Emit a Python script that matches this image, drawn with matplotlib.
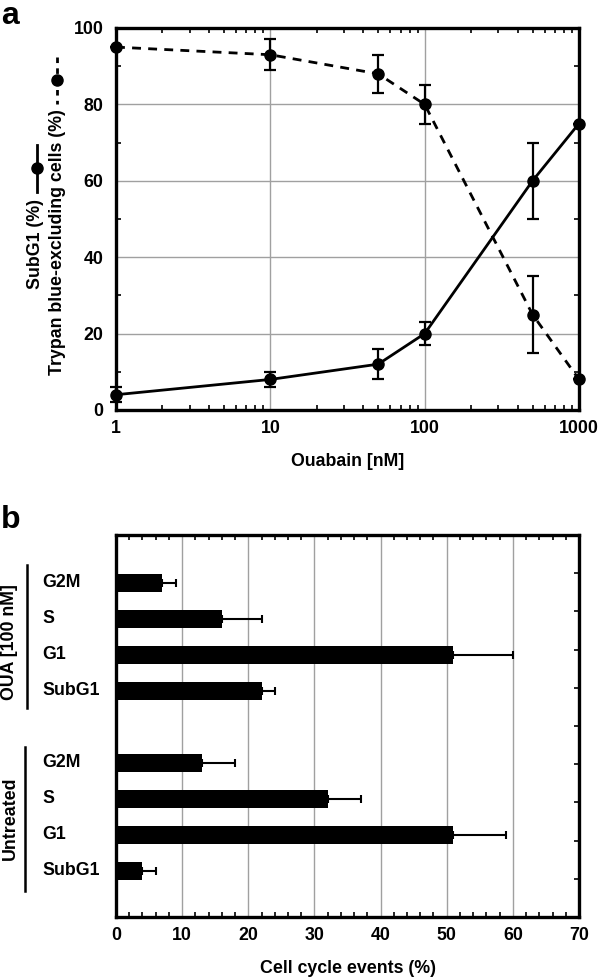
import matplotlib
matplotlib.use("Agg")
import matplotlib.pyplot as plt
from matplotlib.lines import Line2D
from matplotlib.ticker import MultipleLocator, LogLocator, NullFormatter, FixedLocator

plt.rcParams['font.family'] = ['Liberation Sans', 'DejaVu Sans']
plt.rcParams['font.weight'] = 'bold'

# ---- Panel a data ----
ouabain = [1, 10, 50, 100, 500, 1000]
trypan = [95, 93, 88, 80, 25, 8]
trypan_err = [0, 4, 5, 5, 10, 0]
subg1 = [4, 8, 12, 20, 60, 75]
subg1_err = [2, 2, 4, 3, 10, 0]
xticks_a = [1, 10, 100, 1000]
xticklabels_a = ["1", "10", "100", "1000"]
yticks_a = [0, 20, 40, 60, 80, 100]

# ---- Panel b data ----
groups = ["OUA [100 nM]", "Untreated"]
phases = ["G2M", "S", "G1", "SubG1"]
oua_vals = [7, 16, 51, 22]
oua_err = [2, 6, 9, 2]
untr_vals = [13, 32, 51, 4]
untr_err = [5, 5, 8, 2]
xticks_b = [0, 10, 20, 30, 40, 50, 60, 70]

W, H = 600, 977
FS = 12.8
fig = plt.figure(figsize=(6, 9.77), dpi=100)

def fx(px):
    return px / W

def fy(py):
    return 1 - py / H

# ---------- Panel a ----------
axa = fig.add_axes([fx(116), fy(410), fx(579) - fx(116), fy(28) - fy(410)])
axa.set_xscale('log')
axa.set_xlim(1, 1000)
axa.set_ylim(0, 100)
axa.grid(True, which='major', color='#a0a0a0', linewidth=1.0)
axa.set_axisbelow(True)

axa.plot(ouabain, trypan, color='black', linewidth=2, dashes=(3.2, 2.6),
         zorder=3, clip_on=False)
ebt = axa.errorbar(ouabain, trypan, yerr=trypan_err, fmt='o', color='black',
                   markersize=8, capsize=4, elinewidth=1.6, capthick=1.6, zorder=4)
ebs = axa.errorbar(ouabain, subg1, yerr=subg1_err, fmt='o-', color='black',
                   markersize=8, capsize=4, elinewidth=1.6, capthick=1.6,
                   linewidth=2, zorder=4)
for eb in (ebt, ebs):
    eb.lines[0].set_clip_on(False)
    for art in eb.lines[1]:
        art.set_clip_on(False)
    for art in eb.lines[2]:
        art.set_clip_on(False)

axa.xaxis.set_major_locator(FixedLocator(xticks_a))
axa.set_xticklabels(xticklabels_a)
axa.xaxis.set_minor_locator(LogLocator(base=10, subs=range(2, 10)))
axa.xaxis.set_minor_formatter(NullFormatter())
axa.set_yticks(yticks_a)
axa.yaxis.set_minor_locator(MultipleLocator(10))
axa.tick_params(which='both', direction='in', top=True, right=True,
                labelsize=FS, width=1.2)
axa.tick_params(which='major', length=0)
axa.tick_params(axis='x', which='major', pad=7)
axa.tick_params(axis='y', which='major', pad=9)
axa.tick_params(which='minor', length=3.5)
for s in axa.spines.values():
    s.set_linewidth(2.4)
    s.set_zorder(5)
for lab in axa.get_xticklabels() + axa.get_yticklabels():
    lab.set_fontweight('bold')
axa.set_xlabel("Ouabain [nM]", fontsize=FS, fontweight='bold', labelpad=12)

# y label (two lines) with line symbols
fig.text(fx(36), fy(244), "SubG1 (%)", rotation=90, ha='center', va='center',
         fontsize=FS, fontweight='bold')
fig.text(fx(57), fy(242), "Trypan blue-excluding cells (%)", rotation=90,
         ha='center', va='center', fontsize=FS, fontweight='bold')
fig.add_artist(Line2D([fx(37), fx(37)], [fy(145), fy(192)], color='black',
                      linewidth=2, transform=fig.transFigure))
fig.add_artist(Line2D([fx(37)], [fy(168)], marker='o', markersize=8,
                      color='black', transform=fig.transFigure))
fig.add_artist(Line2D([fx(57), fx(57)], [fy(57), fy(104)], color='black',
                      linewidth=2, dashes=(2.0, 1.9), transform=fig.transFigure))
fig.add_artist(Line2D([fx(57)], [fy(80)], marker='o', markersize=8,
                      color='black', transform=fig.transFigure))

fig.text(fx(1), fy(23.5), "a", fontsize=23, fontweight='bold', ha='left',
         va='baseline')

# ---------- Panel b ----------
axb = fig.add_axes([fx(116), fy(917), fx(579) - fx(116), fy(535) - fy(917)])
pos_oua = [8, 7, 6, 5]
pos_untr = [3, 2, 1, 0]
bh = 0.48
axb.barh(pos_oua, oua_vals, height=bh, color='black', zorder=3)
axb.errorbar(oua_vals, pos_oua, xerr=[[0] * 4, oua_err], fmt='none',
             ecolor='black', elinewidth=1.5, capsize=3, capthick=1.5, zorder=3)
axb.barh(pos_untr, untr_vals, height=bh, color='black', zorder=3)
axb.errorbar(untr_vals, pos_untr, xerr=[[0] * 4, untr_err], fmt='none',
             ecolor='black', elinewidth=1.5, capsize=3, capthick=1.5, zorder=3)

axb.set_xlim(0, 70)
axb.set_ylim(-1.28, 9.33)
axb.set_xticks(xticks_b)
axb.xaxis.set_minor_locator(MultipleLocator(2))
axb.grid(True, axis='x', which='major', color='#a0a0a0', linewidth=1.0)
axb.set_axisbelow(True)
ymin, ymax = axb.get_ylim()
axb.set_yticks([ymin + (ymax - ymin) * k / 10 for k in range(1, 10)])
axb.set_yticklabels([])
axb.tick_params(axis='y', which='major', left=False, right=True, direction='in',
                length=3.5, width=1.2)
axb.tick_params(axis='x', which='both', direction='in', top=True,
                labelsize=FS, width=1.2)
axb.tick_params(axis='x', which='major', length=0, pad=7)
axb.tick_params(axis='x', which='minor', length=3.5)
for s in axb.spines.values():
    s.set_linewidth(2.4)
for lab in axb.get_xticklabels():
    lab.set_fontweight('bold')
axb.set_xlabel("Cell cycle events (%)", fontsize=FS, fontweight='bold', labelpad=12)

tr = matplotlib.transforms.blended_transform_factory(fig.transFigure, axb.transData)
for p, name in zip(pos_oua + pos_untr, phases + phases):
    t = fig.text(fx(42), 0, name, transform=tr, fontsize=FS, fontweight='bold',
                 ha='left', va='center')
    t.set_y(p)

# group brackets
fig.add_artist(Line2D([fx(27), fx(27)], [fy(565), fy(708)], color='black',
                      linewidth=1.8, transform=fig.transFigure))
fig.add_artist(Line2D([fx(25), fx(25)], [fy(747), fy(891)], color='black',
                      linewidth=1.8, transform=fig.transFigure))
fig.text(fx(10), fy(642), groups[0], rotation=90, ha='center', va='center',
         fontsize=FS, fontweight='bold')
fig.text(fx(10), fy(818), groups[1], rotation=90, ha='center', va='center',
         fontsize=FS, fontweight='bold')

fig.text(fx(1), fy(528), "b", fontsize=23, fontweight='bold', ha='left',
         va='baseline')

fig.savefig("out.png", dpi=100)
